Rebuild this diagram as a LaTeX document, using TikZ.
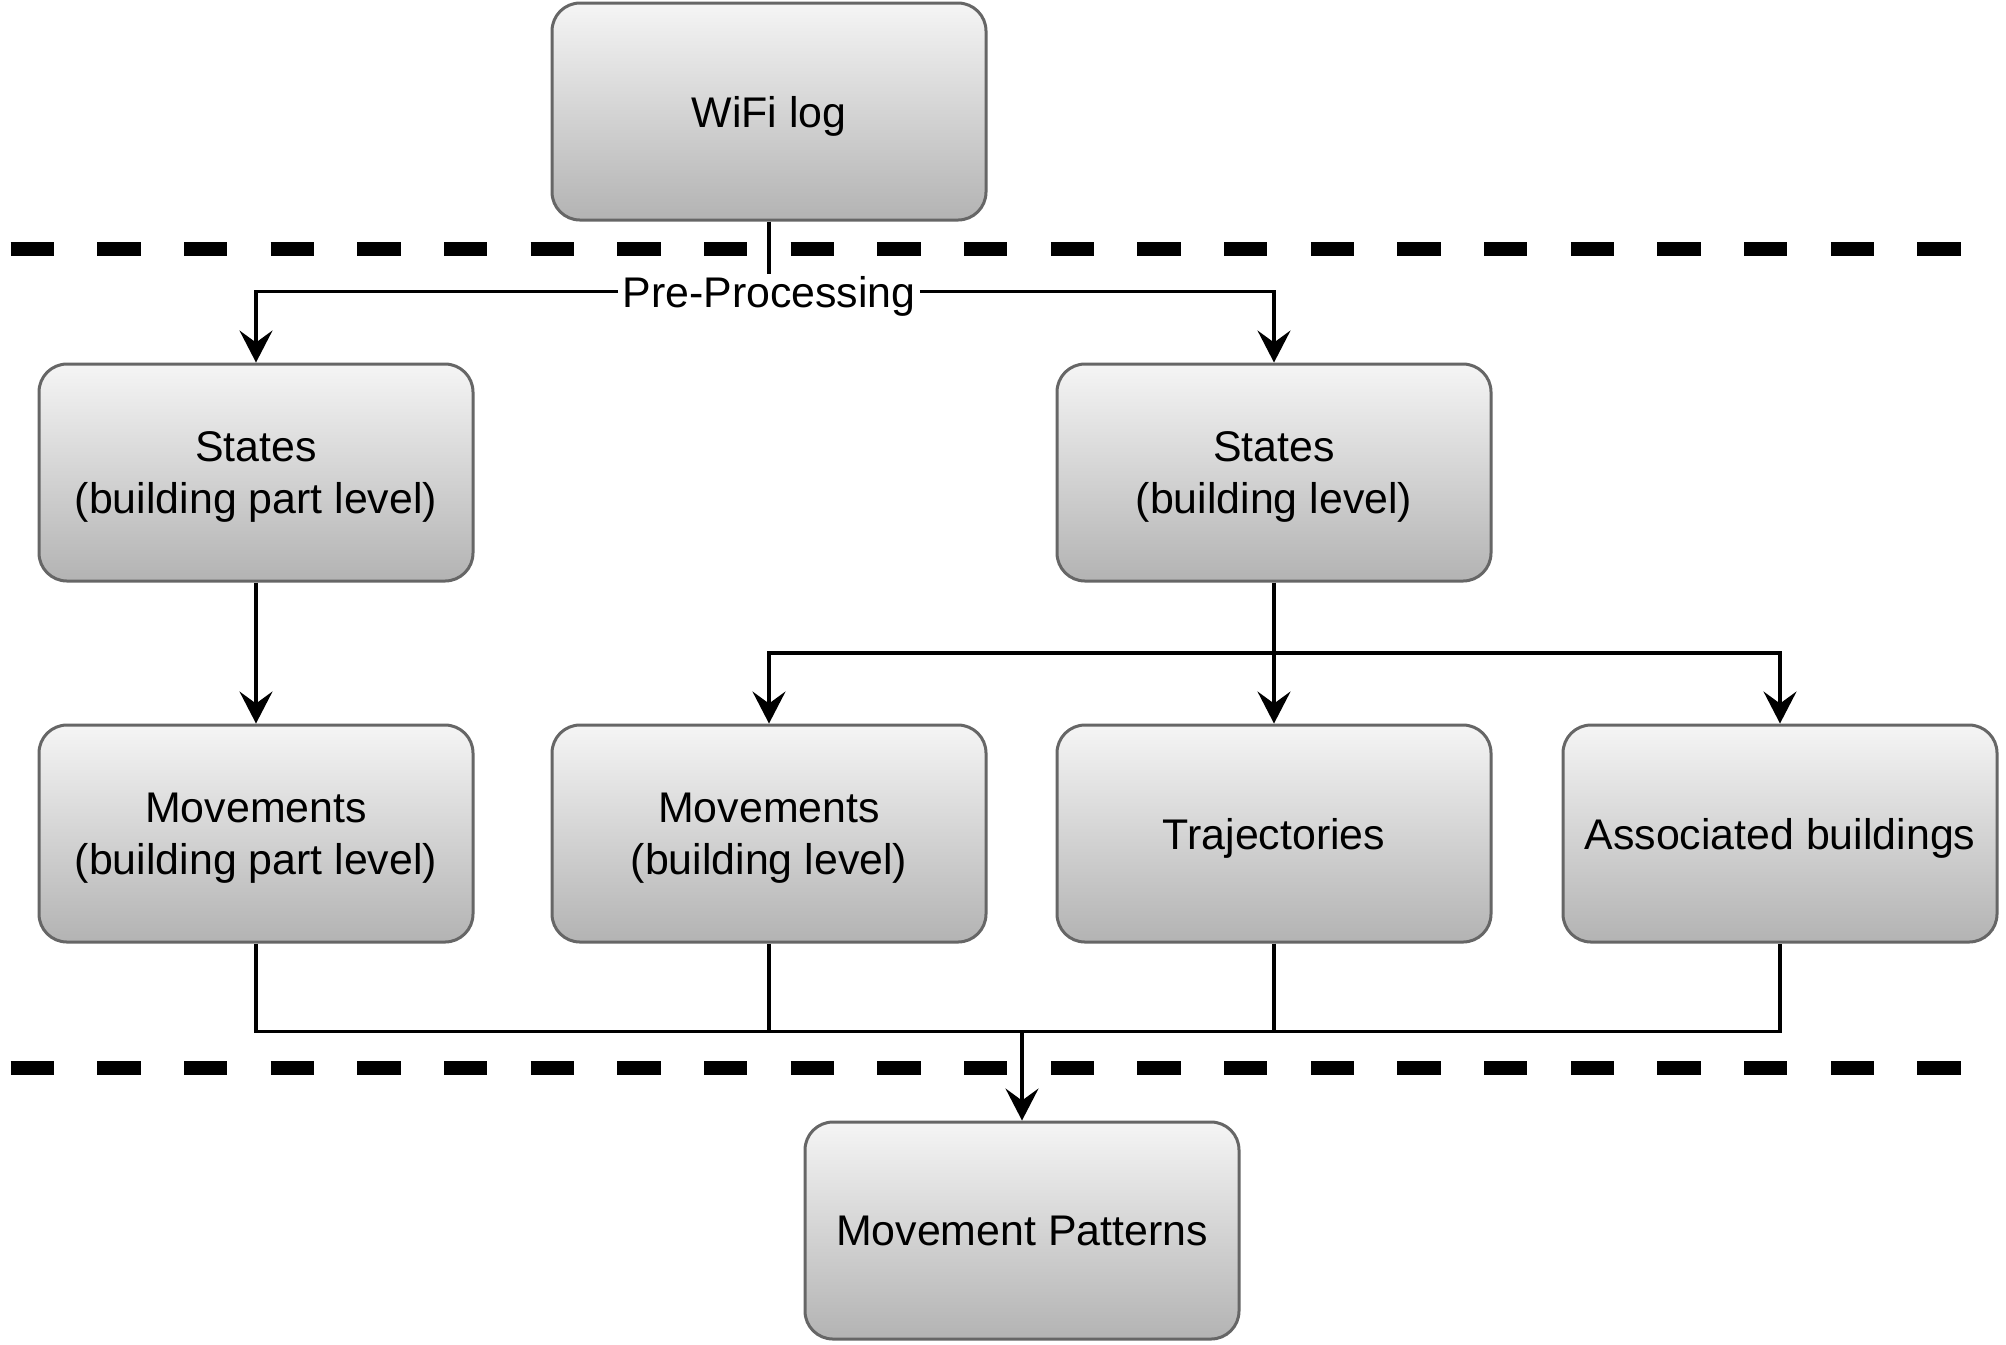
\documentclass[tikz,border=0pt]{standalone}
\usepackage{fontspec}
\setmainfont{Liberation Sans}
\usetikzlibrary{arrows.meta}
\definecolor{boxtop}{HTML}{F5F5F5}
\definecolor{boxbot}{HTML}{B3B3B3}
\definecolor{boxline}{HTML}{666666}
\tikzset{
  box/.style={draw=boxline, line width=0.03cm, rounded corners=0.28cm,
    top color=boxtop, bottom color=boxbot,
    minimum width=4.34cm, minimum height=2.17cm, inner sep=0pt,
    align=center, text depth=0pt,
    font=\fontsize{12.2pt}{14.68pt}\selectfont},
  conn/.style={draw=black, line width=0.032cm},
  arr/.style={conn, -{Stealth[length=0.32cm,width=0.33cm,inset=0.12cm]}},
  sep/.style={draw=black, line width=0.143cm, dash pattern=on 0.4333cm off 0.4334cm},
  lbl/.style={fill=white, inner xsep=1pt, inner ysep=0.5pt, text depth=0pt,
    font=\fontsize{12.2pt}{14.68pt}\selectfont}
}
\begin{document}
\begin{tikzpicture}
\useasboundingbox (0,0) rectangle (20.06,-13.44);
% separators
\draw[sep] (0.107,-2.49) -- (19.607,-2.49);
\draw[sep] (0.107,-10.683) -- (19.607,-10.683);
% boxes
\node[box] (wifi)  at (7.69,-1.115)  {WiFi log};
\node[box] (s1)    at (2.56,-4.725)  {States\\(building part level)};
\node[box] (s2)    at (12.74,-4.725) {States\\(building level)};
\node[box] (m1)    at (2.56,-8.335)  {Movements\\(building part level)};
\node[box] (m2)    at (7.69,-8.335)  {Movements\\(building level)};
\node[box] (traj)  at (12.74,-8.335) {Trajectories};
\node[box] (assoc) at (17.80,-8.335) {Associated buildings};
\node[box] (mp)    at (10.22,-12.305) {Movement Patterns};
% pre-processing
\node[lbl] (pre) at (7.69,-2.917) {Pre-Processing};
\draw[conn] (wifi.south) -- (pre.north);
\draw[arr] (pre.west) -| (s1.north);
\draw[arr] (pre.east) -| (s2.north);
% states to movements
\draw[arr] (s1.south) -- (m1.north);
\coordinate (j1) at (12.74,-6.53);
\draw[conn] (s2.south) -- (j1);
\draw[arr] (j1) -| (m2.north);
\draw[arr] (j1) -- (traj.north);
\draw[arr] (j1) -| (assoc.north);
% to movement patterns
\coordinate (j2) at (10.22,-10.317);
\draw[conn] (m1.south) |- (assoc.south |- j2) -- (assoc.south);
\draw[conn] (m2.south) -- (m2.south |- j2);
\draw[conn] (traj.south) -- (traj.south |- j2);
\draw[arr] (j2) -- (mp.north);
\end{tikzpicture}
\end{document}
